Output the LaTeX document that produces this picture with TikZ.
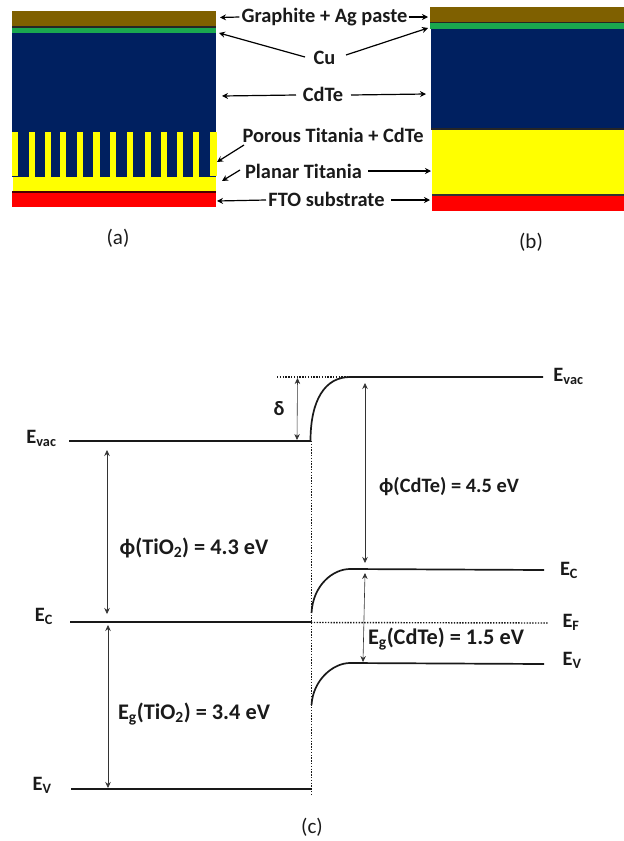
\documentclass[tikz,border=0pt]{standalone}
\usepackage{fontspec}
\setmainfont{Carlito}
\usetikzlibrary{arrows.meta}
\definecolor{navy}{HTML}{002060}
\definecolor{graphite}{HTML}{7F6000}
\definecolor{cugreen}{HTML}{1AA84F}
\definecolor{yel}{HTML}{FFFF00}
\definecolor{redd}{HTML}{FF0000}
\definecolor{txt}{HTML}{1A1A1A}
\tikzset{
  x=1pt,y=-1pt,
  lbl/.style={font=\fontsize{20.4}{20.4}\selectfont\bfseries,text=txt,inner sep=0pt,anchor=center},
  lblbig/.style={font=\fontsize{22.3}{22.3}\selectfont\bfseries,text=txt,inner sep=0pt,anchor=center},
  capt/.style={font=\fontsize{21}{21}\selectfont,text=txt,inner sep=0pt},
  arr/.style={-{Stealth[length=6pt,width=6pt]},line width=1.2pt,black},
  thin arr/.style={{Stealth[length=6pt,width=5.5pt]}-{Stealth[length=6pt,width=5.5pt]},line width=0.6pt,black!80},
  band/.style={line width=1.7pt,black!90},
  dots/.style={line width=1.4pt,dash pattern=on 1.4pt off 1.4pt,black!90},
}
\newcommand{\subs}[1]{\textsubscript{#1}}
\begin{document}
\begin{tikzpicture}
\useasboundingbox (0,0) rectangle (624,841);
% panel (a)
\fill[graphite] (12,11) rectangle (216,26);
\fill[black!85] (12,26) rectangle (216,28);
\fill[cugreen] (12,28) rectangle (216,33);
\fill[navy] (12,33) rectangle (216,177);
\fill[yel] (12.5,176.5) rectangle (216,190.5);
\foreach \a/\b/\c in {11.5/17.5/176,28.5/34.5/178,44.5/50.5/177,59.5/65.5/177,76.5/83/178,93/99.5/178,110/116/179,127/133/179,144.5/150.5/178,161/167/178,177/183/177,193/199/177,210/217/176}
  \fill[yel] (\a,132) rectangle (\b,\c);
\fill[black!70!red] (12,190.5) rectangle (216,192.5);
\fill[redd] (12,192.5) rectangle (216,207);
% panel (b)
\fill[graphite] (430,7) rectangle (624,22);
\fill[black!85] (430,22) rectangle (624,23);
\fill[cugreen] (430,23) rectangle (624,29);
\fill[navy] (431,29) rectangle (624,129);
\fill[black!85] (431,128) rectangle (624,130);
\fill[yel] (432,130) rectangle (624,194);
\fill[black!80] (432,194) rectangle (624,196);
\fill[redd] (432,196) rectangle (624,211);
% labels
\node[lbl] (gr) at (324.5,17) {Graphite + Ag paste};
\node[lbl] (cu) at (324.5,58) {Cu};
\node[lbl] (cd) at (323,94) {CdTe};
\node[lbl] (po) at (333,135) {Porous Titania + CdTe};
\node[lbl] (pl) at (303.5,171) {Planar Titania};
\node[lbl] (ft) at (326.5,199) {FTO substrate};
\coordinate (ga) at (220,17.5); \coordinate (gb) at (428,17);
\coordinate (ca) at (219,33); \coordinate (cb) at (428,28);
\coordinate (da) at (222,96); \coordinate (db) at (426,94);
\coordinate (pa) at (217,162); \coordinate (pb) at (222,181);
\coordinate (pc) at (431,171); \coordinate (fa) at (217,201); \coordinate (fb) at (430,200);
\draw[arr] (gr.west) ++(-2,0) -- (ga);
\draw[arr] (gr.east) ++(1,0) -- (gb);
\draw[arr] (305,57) -- (ca);
\draw[arr] (346,55) -- (cb);
\draw[arr] (296,95) -- (da);
\draw[arr] (351,95) -- (db);
\draw[arr] (244,145) -- (pa);
\draw[arr] (240,170) -- (pb);
\draw[arr] (368,171) -- (pc);
\draw[arr] (266,200) -- (fa);
\draw[arr] (391,200) -- (fb);
\node[capt] (la) at (118,238) {(a)};
\node[capt] (lb) at (531,242) {(b)};
% band diagram
\coordinate (J1) at (310.5,441);
\coordinate (Vac) at (350,377);
\draw[band] (69,441) -- (J1);
\draw[band] (J1) .. controls (310.5,400) and (325,377) .. (Vac) -- (543,377);
\draw[dots] (277,377) -- (Vac);
\draw[band] (70,622) -- (311,622);
\draw[dots] (311,622.5) -- (548,623);
\draw[band] (311.5,613) .. controls (313,585) and (333,569) .. (350,569) -- (544,570);
\draw[band] (311.5,705) .. controls (313,680) and (333,663) .. (350,663) -- (544,664);
\draw[band] (71,789) -- (311,789);
\draw[dots] (311.5,441) -- (311.5,796);
\draw[thin arr] (297.5,378) -- (297,440);
\draw[thin arr] (365,383) -- (365,563);
\draw[thin arr] (365,573) -- (363,662);
\draw[thin arr] (107,450) -- (107,614);
\draw[thin arr] (108,625) -- (108,788);
\node[lbl] (d) at (279,409) {δ};
\node[lbl] (pc1) at (449,487) {ϕ(CdTe) = 4.5 eV};
\node[lblbig] (eg1) at (446,639) {E\subs{g}(CdTe) = 1.5 eV};
\node[lblbig] (pt) at (194,548) {ϕ(TiO\subs{2}) = 4.3 eV};
\node[lblbig] (et) at (194,714) {E\subs{g}(TiO\subs{2}) = 3.4 eV};
\node[lbl] (e1) at (41.5,438) {E\subs{vac}};
\node[lbl] (e2) at (44,616) {E\subs{C}};
\node[lbl] (e3) at (42,785) {E\subs{V}};
\node[lbl] (e4) at (568.5,376) {E\subs{vac}};
\node[lbl] (e5) at (569,570) {E\subs{C}};
\node[lbl] (e6) at (571,622) {E\subs{F}};
\node[lbl] (e7) at (572,660) {E\subs{V}};
\node[capt] (lc) at (312,827) {(c)};
\end{tikzpicture}
\end{document}
